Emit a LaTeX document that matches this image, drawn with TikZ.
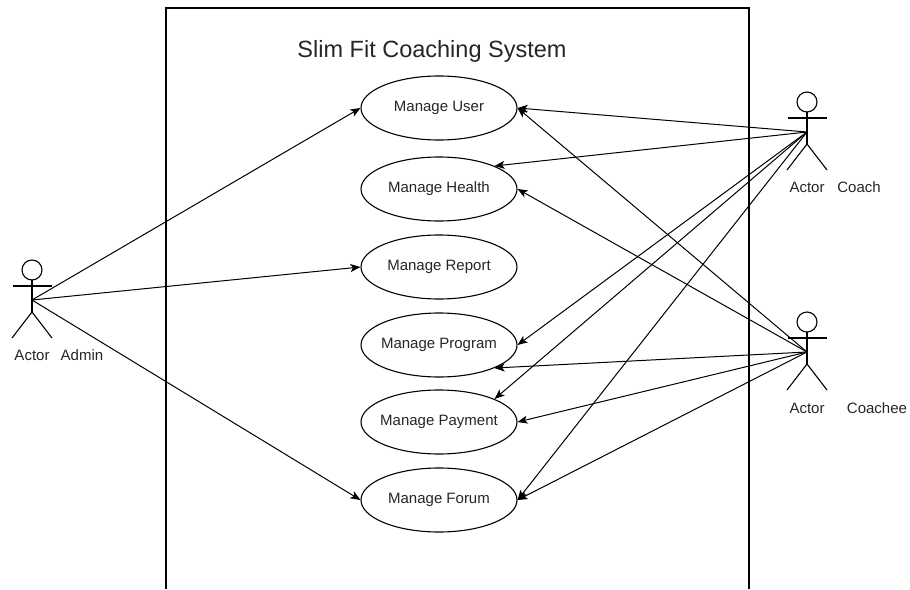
\documentclass[tikz,border=0pt]{standalone}
\usepackage{fontspec}
\setmainfont{Liberation Sans}
\usetikzlibrary{shapes.geometric,arrows.meta}
\begin{document}
\begin{tikzpicture}[x=1pt,y=-1pt,
  usecase/.style={draw,ellipse,line width=1.1pt,minimum width=156pt,minimum height=64pt,inner xsep=-14pt,inner ysep=0pt,font=\fontsize{15}{18}\selectfont,text=black!85},
  assoc/.style={line width=1pt,-{Stealth[length=10pt,width=8pt,inset=2.5pt]}},
  lbl/.style={font=\fontsize{15}{18}\selectfont,inner sep=0pt,anchor=base,text=black!85},
  stickman/.pic={
    \draw[line width=1.1pt] (0,0) circle (10pt);
    \draw[line width=1.1pt] (0,10) -- (0,42);
    \draw[line width=1.1pt] (-19.5,16) -- (19.5,16);
    \draw[line width=1.1pt] (-20,68) -- (0,42) -- (20,68);
    \coordinate (-c) at (0,30);
  }]
\useasboundingbox (0,0) rectangle (910,589);
\fill[white] (0,0) rectangle (910,589);
% system boundary
\draw[line width=1.1pt] (166,589) -- (166,8) -- (749,8) -- (749,589);
\node[font=\fontsize{23.5}{28}\selectfont,anchor=base,inner sep=0pt,text=black!85] (title) at (432,57) {Slim Fit Coaching System};
% use cases
\node[usecase] (user) at (439,108) {Manage User};
\node[usecase] (health) at (439,189) {Manage Health};
\node[usecase] (report) at (439,267) {Manage Report};
\node[usecase] (program) at (439,345) {Manage Program};
\node[usecase] (payment) at (439,422) {Manage Payment};
\node[usecase] (forum) at (439,500) {Manage Forum};
% actors
\pic (admin) at (32,270) {stickman};
\pic (coach) at (807,102) {stickman};
\pic (coachee) at (807,322) {stickman};
\node[lbl] (adminA) at (32,360) {Actor};
\node[lbl] (adminN) at (82,360) {Admin};
\node[lbl] (coachA) at (807,192) {Actor};
\node[lbl] (coachN) at (859,192) {Coach};
\node[lbl] (coacheeA) at (807,413) {Actor};
\node[lbl] (coacheeN) at (877,413) {Coachee};
% admin associations
\draw[assoc] (admin-c) -- (user.west);
\draw[assoc] (admin-c) -- (report.west);
\draw[assoc] (admin-c) -- (forum.west);
% coach associations
\draw[assoc] (coach-c) -- (user.east);
\draw[assoc] (coach-c) -- (health.north east);
\draw[assoc] (coach-c) -- (program.east);
\draw[assoc] (coach-c) -- (payment.north east);
\draw[assoc] (coach-c) -- (forum.east);
% coachee associations
\draw[assoc] (coachee-c) -- (user.east);
\draw[assoc] (coachee-c) -- (health.east);
\draw[assoc] (coachee-c) -- (program.south east);
\draw[assoc] (coachee-c) -- (payment.east);
\draw[assoc] (coachee-c) -- (forum.east);
\end{tikzpicture}
\end{document}
